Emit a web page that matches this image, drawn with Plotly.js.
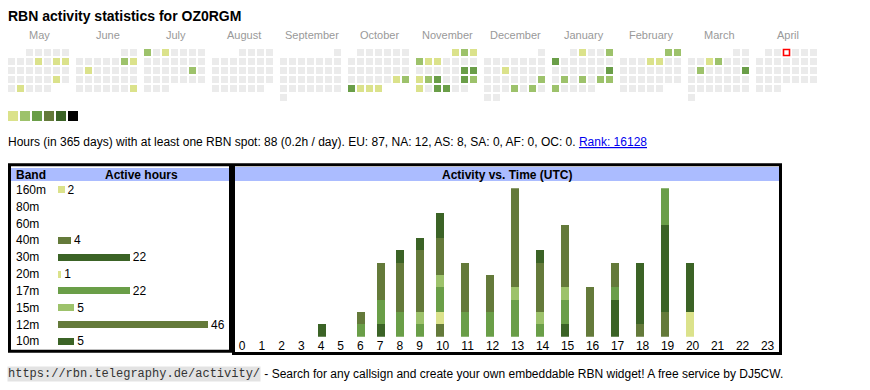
<!DOCTYPE html>
<html>
<head>
<meta charset="utf-8">
<script src="https://cdn.plot.ly/plotly-3.0.1.min.js"></script>
<style>html,body{margin:0;padding:0;background:#fff;}#chart{width:870px;height:390px;}</style>
</head>
<body>
<div id="chart"></div>
<script>
// ---------------- DATA ----------------
const pageTitle = 'RBN activity statistics for OZ0RGM';
const monthNames = ['May','June','July','August','September','October','November','December','January','February','March','April'];
const monthYears = [2024,2024,2024,2024,2024,2024,2024,2024,2025,2025,2025,2025];
const monthNums  = [5,6,7,8,9,10,11,12,1,2,3,4];
const todayDate = '2025-04-03';
const level1Days = ['2024-05-09','2024-05-11','2024-05-12','2024-05-25','2024-05-28','2024-06-09','2024-06-11','2024-06-30','2024-07-03',
  '2024-10-26','2024-10-29','2024-10-30','2024-10-31','2024-11-01','2024-11-03','2024-11-05','2024-11-06','2024-11-18','2024-11-25',
  '2024-12-11','2025-01-02','2025-02-06','2025-02-07','2025-03-05'];
const level2Days = ['2024-06-08','2024-07-01','2024-07-20','2024-10-27','2024-11-02','2024-11-04','2024-11-19','2024-11-24',
  '2024-12-22','2024-12-26','2024-12-28','2025-01-05','2025-01-21','2025-01-23','2025-01-25','2025-01-26','2025-01-27',
  '2025-02-01','2025-02-02','2025-03-06','2025-03-11'];
const level3Days = ['2024-10-28','2024-11-16','2024-11-17','2024-11-20','2024-11-23','2024-11-27','2024-11-28','2025-01-06','2025-01-19','2025-03-16'];
const levelColors = ['#ebebeb','#dbe28b','#9dc26b','#6a9e48','#647a3a','#3b6326','#000000'];

const summaryText = 'Hours (in 365 days) with at least one RBN spot: 88 (0.2h / day). EU: 87, NA: 12, AS: 8, SA: 0, AF: 0, OC: 0. ';
const rankText = 'Rank: 16128';

const bands = ['160m','80m','60m','40m','30m','20m','17m','15m','12m','10m'];
const bandHours = [2,0,0,4,22,1,22,5,46,5];
const bandColors = ['#dbe28b','#9dc26b','#6a9e48','#647a3a','#3b6326','#dbe28b','#6a9e48','#9dc26b','#647a3a','#3b6326'];

const hourLabels = ['0','1','2','3','4','5','6','7','8','9','10','11','12','13','14','15','16','17','18','19','20','21','22','23'];
const h160 = [0,0,0,0,0,0,0,0,0,0,0,0,0,0,0,0,0,0,0,0,2,0,0,0];
const h80  = [0,0,0,0,0,0,0,0,0,0,0,0,0,0,0,0,0,0,0,0,0,0,0,0];
const h60  = [0,0,0,0,0,0,0,0,0,0,0,0,0,0,0,0,0,0,0,0,0,0,0,0];
const h40  = [0,0,0,0,0,0,0,0,0,0,1,0,0,0,0,0,0,0,1,2,0,0,0,0];
const h30  = [0,0,0,0,1,0,0,1,0,0,0,0,0,0,0,1,0,3,5,7,4,0,0,0];
const h20  = [0,0,0,0,0,0,0,0,0,0,1,0,0,0,0,0,0,0,0,0,0,0,0,0];
const h17  = [0,0,0,0,0,0,1,2,2,1,2,2,2,3,1,2,0,1,0,3,0,0,0,0];
const h15  = [0,0,0,0,0,0,0,0,0,1,1,0,0,1,1,1,0,0,0,0,0,0,0,0];
const h12  = [0,0,0,0,0,0,1,3,4,5,3,4,3,8,4,5,4,2,0,0,0,0,0,0];
const h10  = [0,0,0,0,0,0,0,0,1,1,2,0,0,0,1,0,0,0,0,0,0,0,0,0];
const hourlyByBand = [h160,h80,h60,h40,h30,h20,h17,h15,h12,h10];

const footerUrl = 'https://rbn.telegraphy.de/activity/';
const footerText = ' - Search for any callsign and create your own embeddable RBN widget! A free service by DJ5CW.';

// ---------------- LAYOUT CONSTANTS ----------------
const W = 870, H = 390;
const FONT = 'Liberation Sans, Arial, sans-serif';
const CAL_X0 = 8, CAL_Y0 = 49, MONTH_PITCH = 68, CELL_PITCH = 9, CELL = 7;

function iso(y, m, d) { return y + '-' + String(m).padStart(2,'0') + '-' + String(d).padStart(2,'0'); }
function levelOf(key) {
  if (level3Days.includes(key)) return 3;
  if (level2Days.includes(key)) return 2;
  if (level1Days.includes(key)) return 1;
  return 0;
}

// calendar cells
const cellX = [], cellY = [], cellC = [];
let todayX = null, todayY = null;
monthNames.forEach((name, m) => {
  const y = monthYears[m], mo = monthNums[m];
  const first = new Date(Date.UTC(y, mo - 1, 1));
  const offset = (first.getUTCDay() + 6) % 7;
  const nDays = new Date(Date.UTC(y, mo, 0)).getUTCDate();
  for (let d = 1; d <= nDays; d++) {
    const idx = d - 1 + offset;
    const cx = CAL_X0 + m * MONTH_PITCH + (idx % 7) * CELL_PITCH + CELL / 2;
    const cy = CAL_Y0 + Math.floor(idx / 7) * CELL_PITCH + CELL / 2;
    const key = iso(y, mo, d);
    cellX.push(cx); cellY.push(cy);
    cellC.push(levelColors[levelOf(key)]);
    if (key === todayDate) { todayX = cx; todayY = cy; }
  }
});

const traces = [];
traces.push({type:'scatter', mode:'markers', x:cellX, y:cellY, xaxis:'x', yaxis:'y',
  marker:{symbol:'square', size:CELL, color:cellC, line:{width:0}}, hoverinfo:'skip'});
traces.push({type:'scatter', mode:'markers', x:[todayX], y:[todayY], xaxis:'x', yaxis:'y',
  marker:{symbol:'square', size:6, color:'#ffffff', line:{width:1.6, color:'#ff0000'}}, hoverinfo:'skip'});
// colour legend squares
const legendLevels = [1,2,3,4,5,6];
traces.push({type:'scatter', mode:'markers', x:legendLevels.map((l,i)=>13 + i*12), y:legendLevels.map(()=>116),
  xaxis:'x', yaxis:'y', marker:{symbol:'square', size:10, color:legendLevels.map(l=>levelColors[l]), line:{width:0}}, hoverinfo:'skip'});

// band bars
traces.push({type:'bar', orientation:'h', x:bandHours, y:bands, xaxis:'x2', yaxis:'y2',
  marker:{color:bandColors, line:{width:0}}, width:0.42,
  text:bandHours.map(v => v > 0 ? String(v) : ''), textposition:'outside', cliponaxis:false, constraintext:'none',
  textfont:{family:FONT, size:12, color:'#000'}, hoverinfo:'skip'});

// hour columns (auto-sized like a table: two-digit labels make wider columns)
const HOUR_X0 = 238.8;
const colW = hourLabels.map(l => l.length === 1 ? 19.7 : 25);
const barLeft = [];
let acc = HOUR_X0;
colW.forEach(w => { barLeft.push(acc); acc += w; });
const barX = barLeft.map(v => v + 4);
bands.forEach((b, i) => {
  traces.push({type:'bar', x:barX, y:hourlyByBand[i], xaxis:'x3', yaxis:'y3', width:8,
    marker:{color:bandColors[i], line:{width:0}}, hoverinfo:'skip', name:b});
});

// ---------------- LAYOUT ----------------
const annotations = [];
monthNames.forEach((name, m) => {
  annotations.push({xref:'x', yref:'y', x:CAL_X0 + m*MONTH_PITCH + 31.5, y:35, text:name, showarrow:false,
    xanchor:'center', yanchor:'middle', font:{family:FONT, size:11, color:'#999999'}});
});
annotations.push({xref:'x', yref:'y', x:6, y:142, xanchor:'left', yanchor:'middle', showarrow:false,
  text: summaryText + '<span style="text-decoration:underline;color:#0000ee">' + rankText + '</span>',
  font:{family:FONT, size:12, color:'#000'}});
// table headers
annotations.push({xref:'x', yref:'y', x:14, y:174.5, xanchor:'left', yanchor:'middle', showarrow:false,
  text:'<b>Band</b>', font:{family:FONT, size:12, color:'#000'}});
annotations.push({xref:'x', yref:'y', x:141.8, y:174.5, xanchor:'center', yanchor:'middle', showarrow:false,
  text:'<b>Active hours</b>', font:{family:FONT, size:12, color:'#000'}});
annotations.push({xref:'x', yref:'y', x:507, y:174.5, xanchor:'center', yanchor:'middle', showarrow:false,
  text:'<b>Activity vs. Time (UTC)</b>', font:{family:FONT, size:12, color:'#000'}});
bands.forEach(b => {
  annotations.push({xref:'x', yref:'y2', x:14, y:b, xanchor:'left', yanchor:'middle', showarrow:false,
    text:b, font:{family:FONT, size:12, color:'#000'}});
});
// footer
annotations.push({xref:'x', yref:'y', x:7, y:374, xanchor:'left', yanchor:'middle', showarrow:false,
  text:footerUrl, bgcolor:'#e3e3e3', borderpad:0, font:{family:'Liberation Mono, monospace', size:12, color:'#333'}});
annotations.push({xref:'x', yref:'y', x:259, y:374, xanchor:'left', yanchor:'middle', showarrow:false,
  text:footerText, font:{family:FONT, size:12, color:'#000'}});

const shapes = [
  {type:'rect', xref:'x', yref:'y', x0:11, x1:230, y0:168, y1:181, fillcolor:'#abbcff', line:{width:0}, layer:'below'},
  {type:'rect', xref:'x', yref:'y', x0:235, x1:779, y0:167, y1:181, fillcolor:'#abbcff', line:{width:0}, layer:'below'},
  {type:'rect', xref:'x', yref:'y', x0:9.5, x1:230.5, y0:164.8, y1:351.3, line:{width:3, color:'#000'}},
  {type:'rect', xref:'x', yref:'y', x0:233.5, x1:780.5, y0:164.8, y1:353.5, line:{width:3, color:'#000'}}
];

const hidden = {visible:false, fixedrange:true};
const layout = {
  width:W, height:H, margin:{l:0, r:0, t:0, b:0, pad:0},
  paper_bgcolor:'#ffffff', plot_bgcolor:'rgba(0,0,0,0)',
  showlegend:false, hovermode:false, barmode:'stack',
  title:{text:'<b>' + pageTitle + '</b>', x:8/W, xanchor:'left', y:1 - 16/H, yanchor:'middle', xref:'paper', yref:'paper',
    font:{family:FONT, size:14, color:'#000'}},
  xaxis:Object.assign({domain:[0,1], range:[0,W]}, hidden),
  yaxis:Object.assign({domain:[0,1], range:[H,0]}, hidden),
  xaxis2:Object.assign({domain:[58/W, 232/W], range:[0, 174/3.26], anchor:'y2'}, hidden),
  yaxis2:{domain:[1 - 350.45/H, 1 - 180.85/H], anchor:'x2', type:'category', autorange:'reversed', visible:false, fixedrange:true},
  xaxis3:{domain:[234/W, 779/W], range:[234, 779], anchor:'y3', showgrid:false, zeroline:false, showline:false, ticks:'',
    tickvals:barLeft.map((v,i) => v + 3.4*hourLabels[i].length), ticktext:hourLabels,
    tickfont:{family:FONT, size:12, color:'#000'}, fixedrange:true},
  yaxis3:Object.assign({domain:[1 - 336.7/H, 1 - 188.3/H], range:[0,12], anchor:'x3'}, hidden),
  annotations:annotations, shapes:shapes
};

Plotly.newPlot('chart', traces, layout, {staticPlot:true, displayModeBar:false});
</script>
</body>
</html>
